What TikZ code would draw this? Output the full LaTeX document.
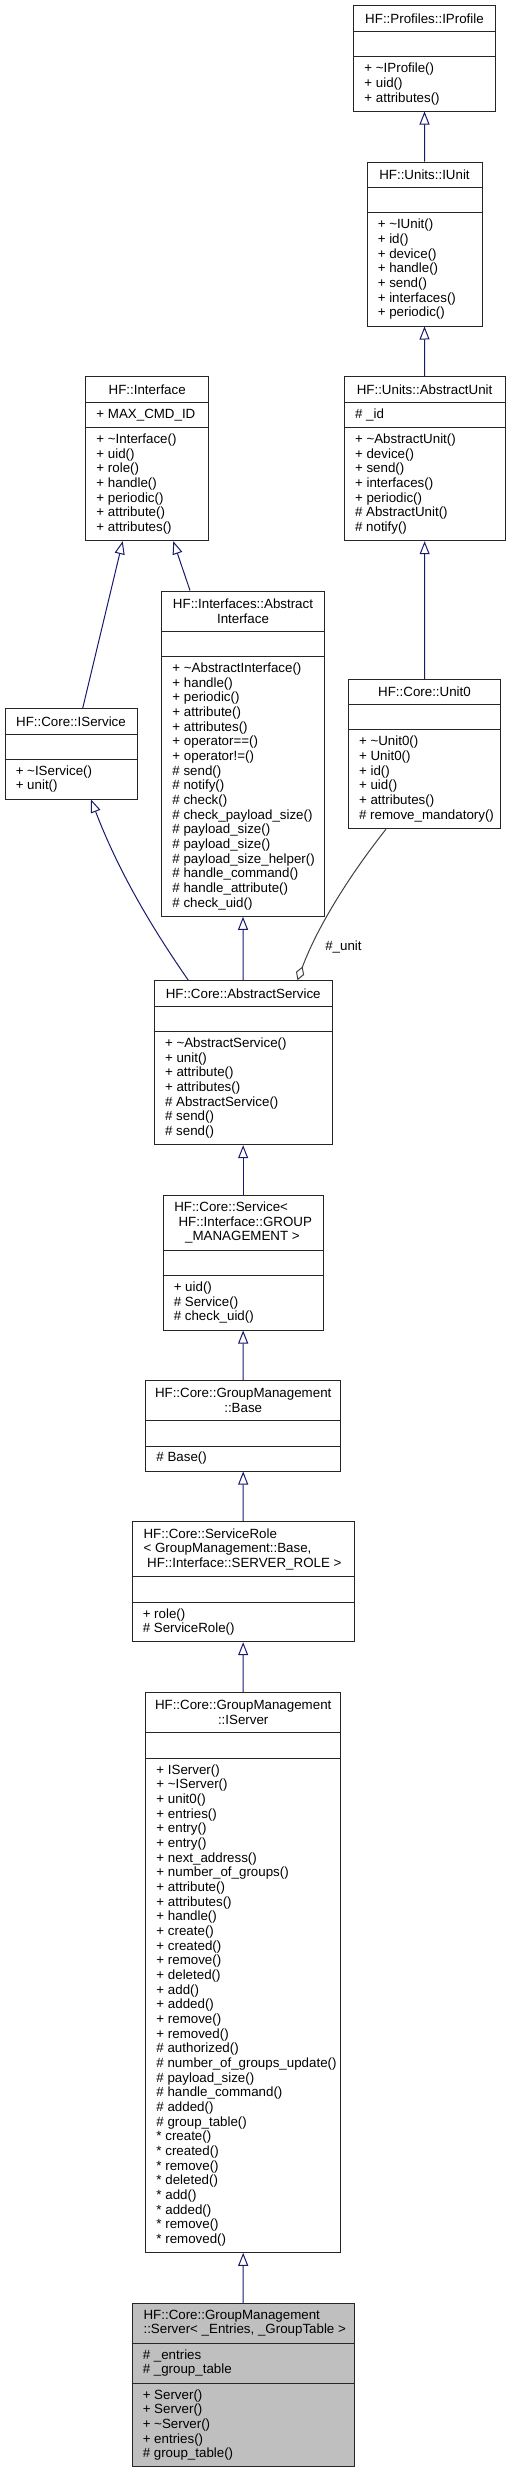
\documentclass[tikz,border=0pt]{standalone}
\usepackage{fontspec}
\setmainfont{Liberation Sans}
\usepackage{tikz}
\usetikzlibrary{arrows.meta, positioning, fit, calc}
\definecolor{edgeblue}{RGB}{25, 25, 112}
\definecolor{edgegrey}{RGB}{64, 64, 64}
\definecolor{selfgrey}{RGB}{191, 191, 191}
% rule between two compartments of a class box
\newcommand{\classrule}[2]{\draw[classline] (#1.west |- 0,#2) -- (#1.east |- 0,#2);}

\begin{document}
\begin{tikzpicture}[x=0.75pt, y=-0.75pt,
  every node/.style={font=\fontsize{10pt}{11pt}\selectfont, inner sep=0pt},
  classline/.style={draw=black!85, line width=0.75pt},
  classbox/.style={classline, fill=white, inner sep=0pt},
  titletext/.style={align=center},
  membertext/.style={anchor=west, align=left},
  inherit/.style={draw=edgeblue, line width=0.75pt, -{Triangle[open, length=9.75pt, width=7.5pt, fill=white]}},
  aggreg/.style={draw=edgegrey, line width=0.75pt, -{Diamond[open, length=11pt, width=6.5pt, fill=white]}}]
  \useasboundingbox (0,0) rectangle (510,2473);

  % HF::Profiles::IProfile
  \node[classbox, fit={(353.7,5.7) (495.3,111)}] (iprofile) {};
  \classrule{iprofile}{31.7} \classrule{iprofile}{56.7}
  \node[titletext] (iprofile-t) at (424.5,18.7) {HF::Profiles::IProfile};
  \node[membertext] (iprofile-m) at (364.2,83.9) {+ \textasciitilde IProfile()\\+ uid()\\+ attributes()};

  % HF::Units::IUnit
  \node[classbox, fit={(367,162) (482,326)}] (iunit) {};
  \classrule{iunit}{187.3} \classrule{iunit}{212.7}
  \node[titletext] (iunit-t) at (424.5,174.7) {HF::Units::IUnit};
  \node[membertext] (iunit-m) at (377.5,269.4) {+ \textasciitilde IUnit()\\+ id()\\+ device()\\+ handle()\\+ send()\\+ interfaces()\\+ periodic()};

  % HF::Units::AbstractUnit
  \node[classbox, fit={(344.3,376.7) (505,540.7)}] (abstractunit) {};
  \classrule{abstractunit}{402.3} \classrule{abstractunit}{427.3}
  \node[titletext] (abstractunit-t) at (424.6,389.5) {HF::Units::AbstractUnit};
  \node[membertext] (abstractunit-a) at (354.8,414.8) {\# \_id};
  \node[membertext] (abstractunit-m) at (354.8,484) {+ \textasciitilde AbstractUnit()\\+ device()\\+ send()\\+ interfaces()\\+ periodic()\\\# AbstractUnit()\\\# notify()};

  % HF::Interface
  \node[classbox, fit={(85.7,376.7) (208.7,540.7)}] (interface) {};
  \classrule{interface}{402.3} \classrule{interface}{427.3}
  \node[titletext] (interface-t) at (147.2,389.5) {HF::Interface};
  \node[membertext] (interface-a) at (96.2,414.8) {+ MAX\_CMD\_ID};
  \node[membertext] (interface-m) at (96.2,484) {+ \textasciitilde Interface()\\+ uid()\\+ role()\\+ handle()\\+ periodic()\\+ attribute()\\+ attributes()};

  % HF::Interfaces::AbstractInterface
  \node[classbox, fit={(161.7,591) (324.3,916.3)}] (abstractiface) {};
  \classrule{abstractiface}{631} \classrule{abstractiface}{656.3}
  \node[titletext] (abstractiface-t) at (243,611) {HF::Interfaces::Abstract\\Interface};
  \node[membertext] (abstractiface-m) at (172.2,786.3) {+ \textasciitilde AbstractInterface()\\+ handle()\\+ periodic()\\+ attribute()\\+ attributes()\\+ operator==()\\+ operator!=()\\\# send()\\\# notify()\\\# check()\\\# check\_payload\_size()\\\# payload\_size()\\\# payload\_size()\\\# payload\_size\_helper()\\\# handle\_command()\\\# handle\_attribute()\\\# check\_uid()};

  % HF::Core::IService
  \node[classbox, fit={(5,708.7) (137,799)}] (iservice) {};
  \classrule{iservice}{734} \classrule{iservice}{759.3}
  \node[titletext] (iservice-t) at (71,721.4) {HF::Core::IService};
  \node[membertext] (iservice-m) at (15.5,779.2) {+ \textasciitilde IService()\\+ unit()};

  % HF::Core::Unit0
  \node[classbox, fit={(348.3,679.3) (500.7,828.7)}] (unit0) {};
  \classrule{unit0}{704.3} \classrule{unit0}{729.7}
  \node[titletext] (unit0-t) at (424.5,691.8) {HF::Core::Unit0};
  \node[membertext] (unit0-m) at (358.8,779.2) {+ \textasciitilde Unit0()\\+ Unit0()\\+ id()\\+ uid()\\+ attributes()\\\# remove\_mandatory()};

  % HF::Core::AbstractService
  \node[classbox, fit={(154.3,980.7) (332,1144.7)}] (abstractservice) {};
  \classrule{abstractservice}{1006} \classrule{abstractservice}{1031.3}
  \node[titletext] (abstractservice-t) at (243.2,993.4) {HF::Core::AbstractService};
  \node[membertext] (abstractservice-m) at (164.8,1088) {+ \textasciitilde AbstractService()\\+ unit()\\+ attribute()\\+ attributes()\\\# AbstractService()\\\# send()\\\# send()};

  % HF::Core::Service< GROUP_MANAGEMENT >
  \node[classbox, fit={(163,1195) (323.3,1330)}] (service) {};
  \classrule{service}{1250} \classrule{service}{1275.3}
  \node[membertext] (service-t) at (174,1222.5) {HF::Core::Service<\\\hspace*{3.2pt}HF::Interface::GROUP\\\hspace*{8.2pt}\_MANAGEMENT >};
  \node[membertext] (service-m) at (173.5,1302.7) {+ uid()\\\# Service()\\\# check\_uid()};

  % HF::Core::GroupManagement::Base
  \node[classbox, fit={(145.7,1380.7) (340.7,1471)}] (gmbase) {};
  \classrule{gmbase}{1420.3} \classrule{gmbase}{1446}
  \node[titletext] (gmbase-t) at (243.2,1400.5) {HF::Core::GroupManagement\\::Base};
  \node[membertext] (gmbase-m) at (156.2,1458.5) {\# Base()};

  % HF::Core::ServiceRole< Base, SERVER_ROLE >
  \node[classbox, fit={(132,1521.7) (354.3,1641.7)}] (servicerole) {};
  \classrule{servicerole}{1576.7} \classrule{servicerole}{1602}
  \node[membertext] (servicerole-t) at (143.3,1549.2) {HF::Core::ServiceRole\\< GroupManagement::Base,\\\hspace*{2.7pt}HF::Interface::SERVER\_ROLE >};
  \node[membertext] (servicerole-m) at (142.5,1621.9) {+ role()\\\# ServiceRole()};

  % HF::Core::GroupManagement::IServer
  \node[classbox, fit={(145.7,1692.7) (340.7,2252.3)}] (iserver) {};
  \classrule{iserver}{1732.7} \classrule{iserver}{1758}
  \node[titletext] (iserver-t) at (243.2,1712.7) {HF::Core::GroupManagement\\::IServer};
  \node[membertext] (iserver-m) at (156.2,2005.2) {+ IServer()\\+ \textasciitilde IServer()\\+ unit0()\\+ entries()\\+ entry()\\+ entry()\\+ next\_address()\\+ number\_of\_groups()\\+ attribute()\\+ attributes()\\+ handle()\\+ create()\\+ created()\\+ remove()\\+ deleted()\\+ add()\\+ added()\\+ remove()\\+ removed()\\\# authorized()\\\# number\_of\_groups\_update()\\\# payload\_size()\\\# handle\_command()\\\# added()\\\# group\_table()\\* create()\\* created()\\* remove()\\* deleted()\\* add()\\* added()\\* remove()\\* removed()};

  % HF::Core::GroupManagement::Server (this class)
  \node[classbox, fill=selfgrey, fit={(132,2303.3) (354.3,2466.7)}] (server) {};
  \classrule{server}{2343} \classrule{server}{2383}
  \node[membertext] (server-t) at (143.3,2323.2) {HF::Core::GroupManagement\\::Server< \_Entries, \_GroupTable >};
  \node[membertext] (server-a) at (142.5,2363) {\# \_entries\\\# \_group\_table};
  \node[membertext] (server-m) at (142.5,2424.9) {+ Server()\\+ Server()\\+ \textasciitilde Server()\\+ entries()\\\# group\_table()};

  % inheritance
  \draw[inherit] (iunit.north) -- (iprofile.south);
  \draw[inherit] (abstractunit.north) -- (iunit.south);
  \draw[inherit] (unit0.north) -- (abstractunit.south);
  \draw[inherit] (iservice.north -| 82.7,0) -- (interface.south -| 122.7,0);
  \draw[inherit] (abstractiface.north -| 190,0) -- (interface.south -| 173.3,0);
  \draw[inherit] (abstractservice.north -| 188.3,0) .. controls (150,925) and (118,870) .. (iservice.south -| 91,0);
  \draw[inherit] (abstractservice.north) -- (abstractiface.south);
  \draw[inherit] (service.north) -- (abstractservice.south);
  \draw[inherit] (gmbase.north) -- (service.south);
  \draw[inherit] (servicerole.north) -- (gmbase.south);
  \draw[inherit] (iserver.north) -- (servicerole.south);
  \draw[inherit] (server.north) -- (iserver.south);

  % aggregation
  \draw[aggreg] (unit0.south -| 386,0) .. controls (352,872) and (318,925) .. (abstractservice.north -| 297.5,0);
  \node[anchor=west] (unit-label) at (325,946.5) {\#\_unit};
\end{tikzpicture}
\end{document}
